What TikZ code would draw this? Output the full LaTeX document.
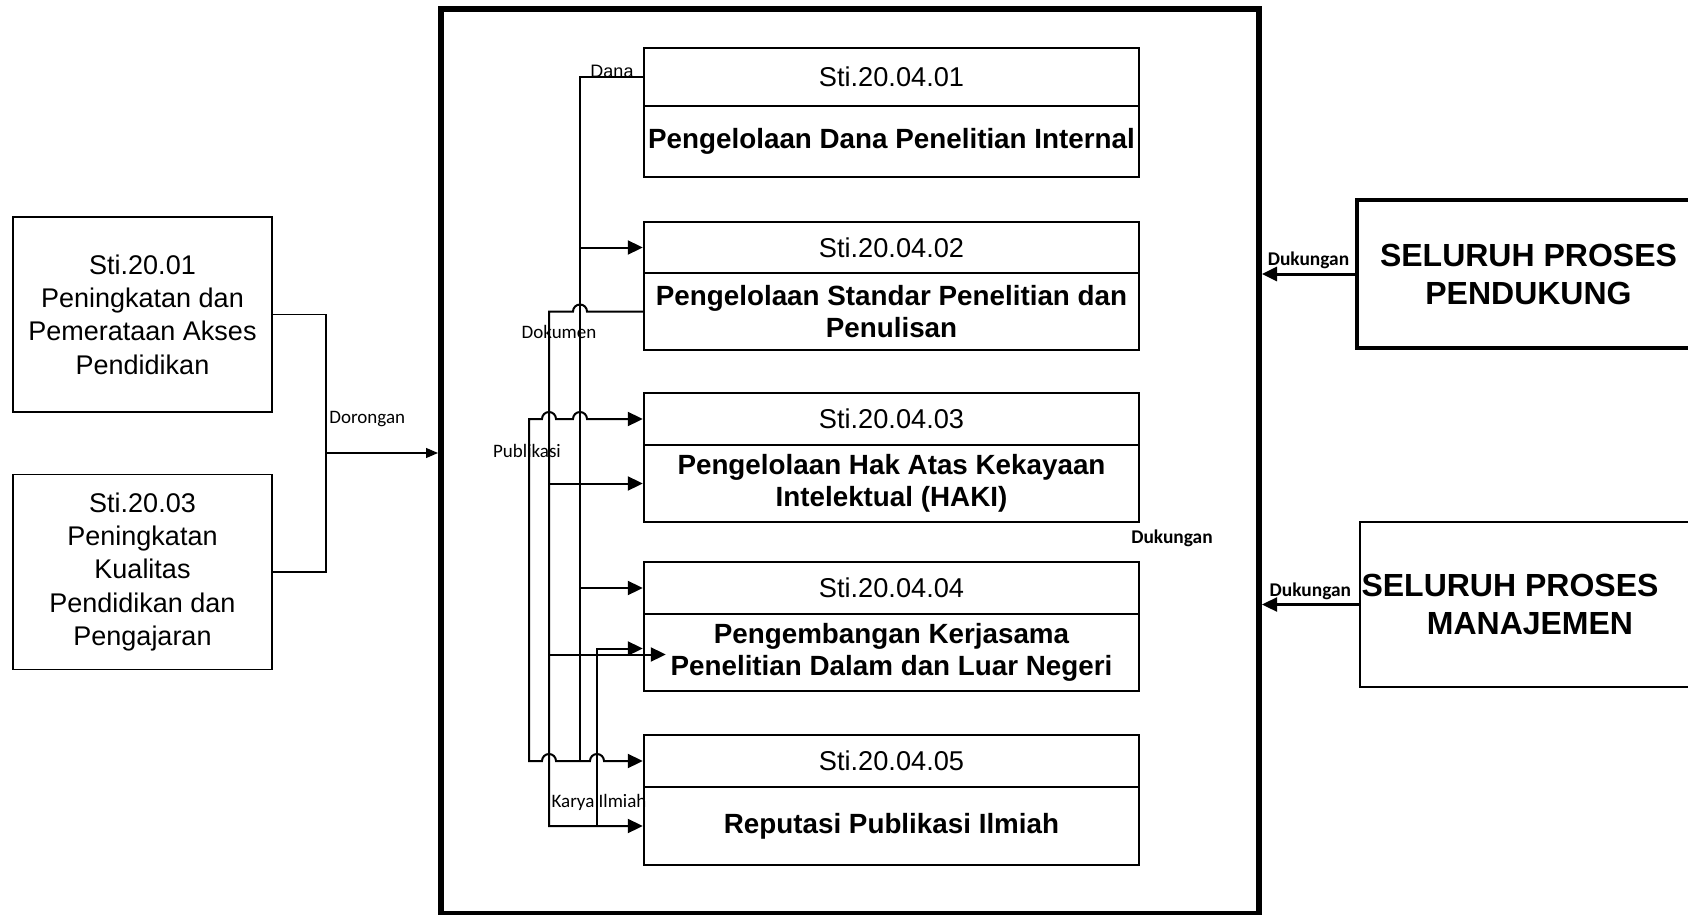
\documentclass[tikz,border=0pt]{standalone}
\usepackage{fontspec}
\setmainfont{Liberation Sans}
\newfontfamily\lblfont{Carlito}
\usetikzlibrary{arrows.meta}
\begin{document}
\begin{tikzpicture}[x=0.5pt,y=-0.5pt,
  >={Triangle[length=7.5pt,width=7pt]},
  conn/.style={line width=1pt},
  codebox/.style={draw, line width=1.2pt, minimum width=247.5pt, inner sep=0pt, font=\fontsize{13.6}{16}\selectfont},
  titlebox/.style={codebox, align=center, font=\bfseries\fontsize{13.9}{16}\selectfont},
  goalbox/.style={draw, line width=0.6pt, minimum width=129.5pt, minimum height=97.5pt, inner sep=0pt, align=center, font=\fontsize{13.5}{16.7}\selectfont},
  procbox/.style={draw, inner sep=0pt, align=center, font=\bfseries\fontsize{16}{19}\selectfont},
  lbl/.style={inner sep=1pt, font=\lblfont\fontsize{9.5}{11}\selectfont},
  dukung/.style={inner sep=2pt, font=\lblfont\bfseries\fontsize{9.7}{11}\selectfont}]
\useasboundingbox (0,0) rectangle (1688,915);

\node[draw, line width=3pt, minimum width=409pt, minimum height=452.5pt, inner sep=0pt] (frame) at (850,461.5) {};

\node[codebox, minimum height=29pt] (k1) at (891.5,77) {Sti.20.04.01};
\node[titlebox, minimum height=35.5pt] (t1) at (891.5,141.5) {Pengelolaan Dana Penelitian Internal};
\node[codebox, minimum height=25.5pt] (k2) at (891.5,247.5) {Sti.20.04.02};
\node[titlebox, minimum height=38.5pt] (t2) at (891.5,311.5) {Pengelolaan Standar Penelitian dan\\Penulisan};
\node[codebox, minimum height=26pt] (k3) at (891.5,419) {Sti.20.04.03};
\node[titlebox, minimum height=38.5pt] (t3) at (891.5,483.5) {Pengelolaan Hak Atas Kekayaan\\Intelektual (HAKI)};
\node[codebox, minimum height=26pt] (k4) at (891.5,588) {Sti.20.04.04};
\node[titlebox, minimum height=38.5pt] (t4) at (891.5,652.5) {Pengembangan Kerjasama\\Penelitian Dalam dan Luar Negeri};
\node[codebox, minimum height=26pt] (k5) at (891.5,761) {Sti.20.04.05};
\node[titlebox, minimum height=39pt] (t5) at (891.5,826) {Reputasi Publikasi Ilmiah};

\node[goalbox] (akses) at (142.5,314.5) {Sti.20.01\\Peningkatan dan\\Pemerataan Akses\\Pendidikan};
\node[goalbox] (kualitas) at (142.5,572) {Sti.20.03\\Peningkatan\\Kualitas\\Pendidikan dan\\Pengajaran};

\node[procbox, line width=2pt, minimum width=171.5pt, minimum height=74pt] (pendukung) at (1528.5,274) {SELURUH PROSES\\PENDUKUNG};
\node[procbox, line width=1.2pt, minimum width=170pt, minimum height=82.5pt] (manajemen) at (1530,604.5) {\hspace*{-20pt}SELURUH PROSES\\MANAJEMEN};

\coordinate (xpub) at (529,0);
\coordinate (xdok) at (549,0);
\coordinate (xdana) at (580,0);
\coordinate (xkarya) at (597,0);
\coordinate (jdor) at (326,453);

\draw[line width=0.6pt] (akses.east) -- (akses.east -| jdor) -- (kualitas.east -| jdor) -- (kualitas.east);
\draw[line width=0.6pt, -{Triangle[length=6pt,width=5pt]}] (jdor) -- (jdor -| frame.west);
\node[lbl, anchor=west] (dorlbl) at (327,419) {Dorongan};

\draw[conn] (k1.west) -- (xdana |- k1.west) -- (xdana |- k5.west);
\draw[conn, ->] (xdana |- k2.west) -- (k2.west);
\draw[conn, ->] (xdana |- k4.west) -- (k4.west);

\draw[conn, ->] (t2.west) -- ([xshift=3.5pt]xdana |- t2.west) arc[start angle=0, end angle=180, radius=3.5pt] -- (xdok |- t2.west) -- (xdok |- t5.west) -- (t5.west);
\draw[conn, ->] (xdok |- t3.west) -- (t3.west);
\draw[conn, ->] ([yshift=-1pt]xdok |- t4.west) -- ([xshift=11.5pt,yshift=-1pt]t4.west);

\draw[conn, <->] (k3.west) -- ([xshift=3.5pt]xdana |- k3.west) arc[start angle=0, end angle=180, radius=3.5pt]
  -- ([xshift=3.5pt]xdok |- k3.west) arc[start angle=0, end angle=180, radius=3.5pt]
  -- (xpub |- k3.west) -- (xpub |- k5.west)
  -- ([xshift=-3.5pt]xdok |- k5.west) arc[start angle=180, end angle=0, radius=3.5pt]
  -- ([xshift=-3.5pt]xkarya |- k5.west) arc[start angle=180, end angle=0, radius=3.5pt] -- (k5.west);

\draw[conn, ->] (xkarya |- t5.west) -- ([yshift=2pt]xkarya |- t4.west) -- ([yshift=2pt]t4.west);

\node[lbl, font=\fontsize{9}{10}\selectfont] (danalbl) at (612,71) {Dana};
\node[lbl] (doklbl) at (559,332) {Dokumen};
\node[lbl] (publbl) at (527,451) {Publikasi};
\node[lbl] (karyalbl) at (599,802) {Karya Ilmiah};

\draw[line width=1.5pt, ->] (pendukung.west) -- node[dukung, above] {Dukungan} (pendukung.west -| frame.east);
\draw[line width=1.2pt, ->] (manajemen.west) -- node[dukung, above] {Dukungan} (manajemen.west -| frame.east);
\node[dukung] (dukbebas) at (1172,538) {Dukungan};
\end{tikzpicture}
\end{document}
